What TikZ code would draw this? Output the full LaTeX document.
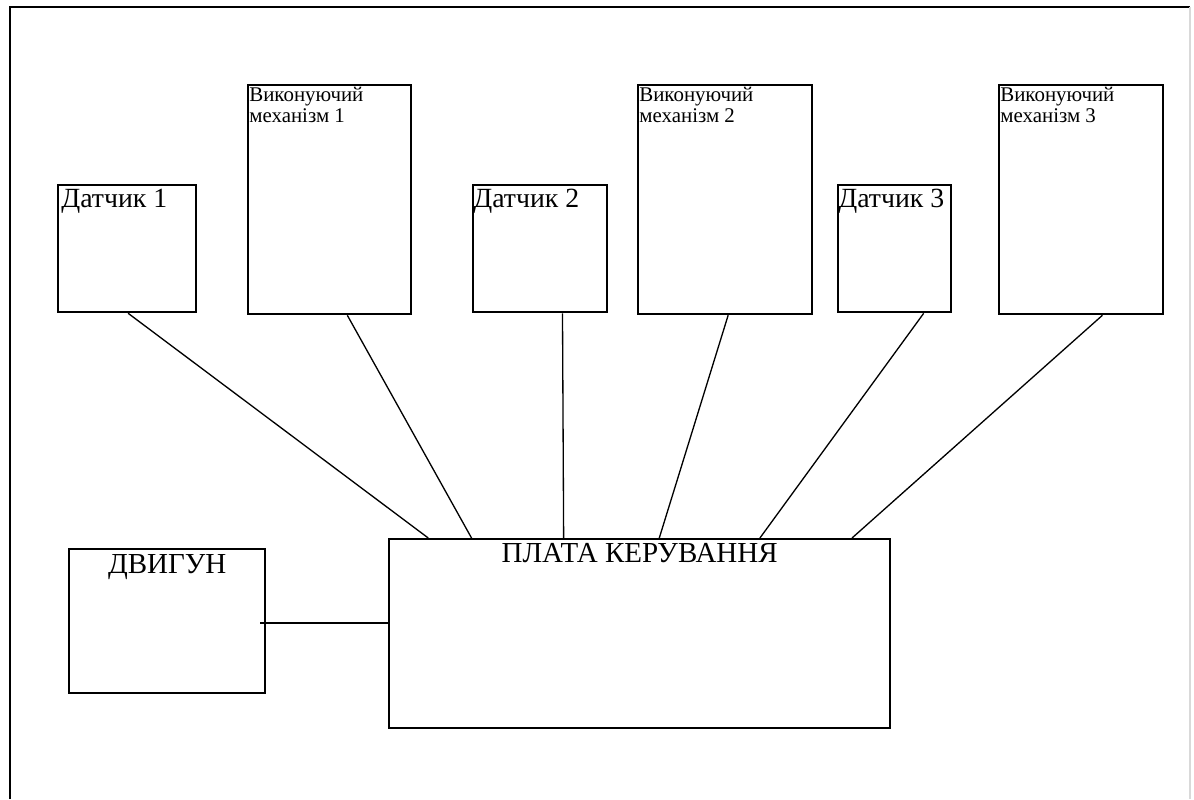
\documentclass[tikz,border=0pt]{standalone}
\usepackage{fontspec}
\setmainfont{Liberation Serif}
\usetikzlibrary{calc}
\tikzset{
  block/.style={draw, line width=1.3pt, inner sep=0pt, anchor=north west},
  link/.style={line width=0.75pt},
  frameline/.style={line width=1.3pt},
  sensortext/.style={font=\fontsize{15.8}{18}\selectfont, anchor=base west, inner sep=0pt},
  drivetext/.style={font=\fontsize{11.9}{10.2}\selectfont, anchor=base west, inner sep=0pt, align=left},
  titletext/.style={font=\fontsize{16.5}{18}\selectfont, anchor=base, inner sep=0pt}
}
\newcommand{\Block}[5]{%
  % #1 name, #2 x-left, #3 y-top, #4 width, #5 height (in pixels)
  \node[block, minimum width={#4*0.02cm}, minimum height={#5*0.02cm}] (#1) at (#2,#3) {};
}

\begin{document}
\begin{tikzpicture}[x=0.02cm, y=-0.02cm]
  \useasboundingbox (0,0) rectangle (1194,799);
  % outer frame
  \draw[frameline] (10,799) -- (10,7) -- (1190,7);
  \draw[frameline, black!15] (1190,7) -- (1190,799);
  % sensors and actuators
  \Block{d1}{57}{184}{138}{127}
  \Block{vm1}{247}{84}{163}{229}
  \Block{d2}{472}{184}{134}{127}
  \Block{vm2}{637}{84}{174}{229}
  \Block{d3}{837}{184}{113}{127}
  \Block{vm3}{998}{84}{164}{229}
  % motor and board
  \Block{motor}{68}{548}{196}{144}
  \Block{board}{388}{538}{501}{189}
  % labels (two-line ones sit on their last line)
  \node[sensortext] (t1) at ($(d1.north west)+(4,23)$) {Датчик 1};
  \node[sensortext] (t2) at ($(d2.north west)+(1,23)$) {Датчик 2};
  \node[sensortext] (t3) at ($(d3.north west)+(1,23)$) {Датчик 3};
  \node[drivetext] (u1) at ($(vm1.north west)+(2,38)$) {Виконуючий\\механізм 1};
  \node[drivetext] (u2) at ($(vm2.north west)+(2,38)$) {Виконуючий\\механізм 2};
  \node[drivetext] (u3) at ($(vm3.north west)+(2,38)$) {Виконуючий\\механізм 3};
  \node[titletext] (tm) at ($(motor.north)+(0,25)$) {ДВИГУН};
  \node[titletext] (tb) at ($(board.north)+(0,24)$) {ПЛАТА КЕРУВАННЯ};
  % connections to the board
  \foreach \src/\a/\b in {d1/0.507/0.08, vm1/0.607/0.166, d2/0.664/0.349,
                          vm2/0.517/0.539, d3/0.752/0.739, vm3/0.628/0.922}
    \draw[link] ($(\src.south west)!\a!(\src.south east)$)
             -- ($(board.north west)!\b!(board.north east)$);
  \draw[link] ($(motor.east)+(-6,2)$) coordinate (m) -- (m -| board.west);
\end{tikzpicture}
\end{document}
